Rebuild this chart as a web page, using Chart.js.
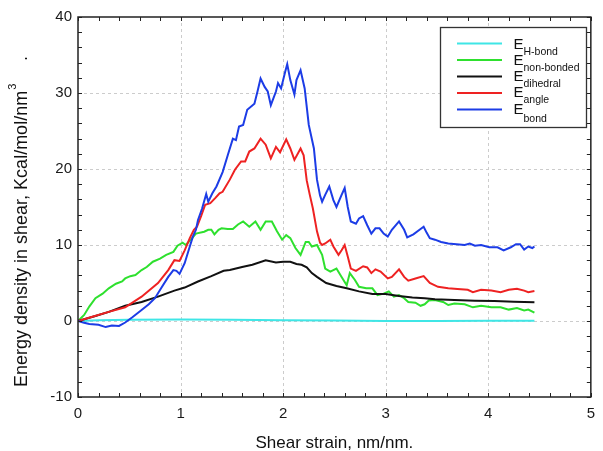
<!DOCTYPE html>
<html><head><meta charset="utf-8">
<style>html,body{margin:0;padding:0;background:#fff;}canvas{display:block;}</style>
<script src="https://cdn.jsdelivr.net/npm/chart.js@4.4.1/dist/chart.umd.min.js"></script>
</head><body>
<canvas id="c" width="603" height="451"></canvas>
<script>
// ---- data ----
const xTicks = [0, 1, 2, 3, 4, 5];
const yTicks = [-10, 0, 10, 20, 30, 40];
const xTitle = 'Shear strain, nm/nm.';
const yTitleMain = 'Energy density in shear, Kcal/mol/nm';
const yTitleSup = '3';
const legendSubs = ['H-bond', 'non-bonded', 'dihedral', 'angle', 'bond'];

const hbondX = [0, 0.2, 0.5, 1.0, 1.5, 2.0, 2.5, 3.0, 3.5, 4.0, 4.45];
const hbondY = [0, 0.1, 0.15, 0.2, 0.15, 0.1, 0.05, 0.0, 0.0, 0.02, 0.03];

const nonbX = [0,0.01,0.06,0.11,0.17,0.24,0.30,0.37,0.43,0.46,0.51,0.56,0.62,0.67,0.73,0.80,0.86,0.93,0.97,1.02,1.05,1.10,1.15,1.23,1.27,1.30,1.33,1.37,1.40,1.46,1.51,1.56,1.61,1.67,1.73,1.78,1.83,1.89,1.94,1.99,2.03,2.07,2.12,2.17,2.22,2.25,2.28,2.33,2.38,2.41,2.46,2.52,2.57,2.62,2.65,2.70,2.74,2.81,2.87,2.92,2.98,3.03,3.08,3.13,3.18,3.22,3.29,3.34,3.38,3.42,3.48,3.56,3.61,3.67,3.77,3.85,3.93,4.03,4.12,4.20,4.28,4.35,4.39,4.45];
const nonbY = [0,0.13,0.8,1.9,3.0,3.6,4.3,4.9,5.2,5.6,5.9,6.05,6.7,7.1,7.8,8.2,8.7,9.1,9.9,10.3,10.0,10.7,11.5,11.75,12.0,12.0,11.4,12.0,12.2,12.1,12.1,12.7,13.1,12.4,13.1,12.0,13.1,13.1,11.8,10.7,11.3,10.9,9.6,8.7,10.4,10.4,9.8,10.0,8.7,6.9,6.5,6.9,5.8,4.7,6.3,5.4,4.5,4.3,4.3,3.4,3.6,3.9,3.2,3.4,3.0,2.5,2.4,2.0,2.2,2.7,2.76,2.5,2.1,2.3,2.2,1.8,2.0,1.8,1.8,1.5,1.7,1.4,1.5,1.1];

const dihedX = [0,0.17,0.30,0.46,0.62,0.78,0.94,1.04,1.17,1.30,1.42,1.48,1.60,1.70,1.83,1.93,2.00,2.07,2.13,2.18,2.23,2.28,2.33,2.42,2.52,2.62,2.74,2.87,3.00,3.13,3.26,3.38,3.48,3.67,3.87,4.06,4.25,4.45];
const dihedY = [0,0.66,1.2,2.0,2.5,3.2,4.0,4.4,5.2,5.9,6.6,6.7,7.1,7.4,8.0,7.7,7.8,7.8,7.5,7.4,7.05,6.3,5.8,5.0,4.6,4.3,3.9,3.55,3.55,3.3,3.1,3.0,2.85,2.76,2.67,2.63,2.54,2.46];

const angleX = [0,0.14,0.30,0.46,0.62,0.78,0.88,0.94,0.99,1.04,1.09,1.13,1.16,1.20,1.24,1.29,1.34,1.38,1.41,1.48,1.53,1.59,1.63,1.67,1.72,1.78,1.83,1.88,1.93,1.97,2.03,2.07,2.11,2.17,2.20,2.23,2.26,2.29,2.33,2.36,2.38,2.41,2.46,2.49,2.54,2.57,2.60,2.63,2.66,2.71,2.78,2.82,2.86,2.90,2.95,3.02,3.06,3.13,3.18,3.22,3.29,3.37,3.43,3.51,3.61,3.70,3.80,3.85,3.93,4.03,4.12,4.20,4.28,4.35,4.39,4.45];
const angleY = [0,0.56,1.2,1.8,3.2,5.0,6.7,8.0,7.9,9.3,10.9,12.0,12.4,13.8,15.3,15.5,16.2,16.8,17.0,18.6,19.9,21.0,21.0,22.3,22.7,24.0,23.2,21.4,22.9,22.2,23.9,22.7,21.2,22.7,21.8,18.5,16.6,14.8,11.8,10.3,10.0,10.2,10.7,9.8,8.7,9.3,10.0,8.5,6.9,6.6,7.2,7.05,6.3,6.8,6.5,5.6,5.8,6.8,5.8,5.3,5.6,5.9,5.0,4.5,4.3,4.2,4.1,3.8,4.1,4.0,3.8,4.1,4.25,4.0,3.8,3.95];

const bondX = [0,0.05,0.11,0.20,0.27,0.33,0.40,0.46,0.53,0.62,0.69,0.75,0.81,0.88,0.93,0.96,0.99,1.04,1.09,1.12,1.15,1.17,1.21,1.25,1.27,1.31,1.35,1.41,1.46,1.51,1.54,1.57,1.61,1.65,1.72,1.75,1.78,1.82,1.85,1.88,1.93,1.95,1.98,2.02,2.04,2.07,2.11,2.13,2.17,2.21,2.25,2.30,2.33,2.36,2.38,2.41,2.45,2.49,2.52,2.57,2.60,2.63,2.66,2.71,2.74,2.78,2.82,2.86,2.90,2.94,2.98,3.02,3.06,3.13,3.18,3.21,3.27,3.34,3.37,3.40,3.43,3.48,3.54,3.61,3.69,3.77,3.82,3.87,3.93,4.01,4.09,4.15,4.22,4.27,4.31,4.35,4.39,4.43,4.45];
const bondY = [0,-0.2,-0.4,-0.5,-0.8,-0.6,-0.65,-0.2,0.5,1.45,2.2,3.0,4.3,5.8,6.7,6.6,6.2,7.6,9.8,11.1,12.0,13.3,14.8,16.7,15.7,16.8,17.7,19.6,21.8,24.0,23.8,25.6,25.8,27.8,28.6,30.2,31.9,30.8,30.2,28.4,30.2,31.3,30.6,32.8,33.8,31.7,29.8,31.7,33.0,30.6,25.8,22.7,18.6,16.5,15.7,16.6,17.7,15.9,15.0,16.6,17.5,15.0,13.1,12.8,13.5,13.8,12.6,11.5,12.2,12.2,11.5,11.1,12.0,13.1,12.0,11.0,11.4,12.1,12.4,11.6,10.9,10.7,10.4,10.2,10.1,10.0,10.2,9.9,10.0,9.7,9.7,9.3,9.7,10.1,10.1,9.4,9.8,9.6,9.8];

// ---- style ----
const FONT = "'Liberation Sans', Arial, Helvetica, sans-serif";
const COLORS = ['#3fe6e6', '#2ee02e', '#111111', '#ee2222', '#1c3ce6'];
Chart.defaults.font.family = FONT;

const pts = (xs, ys) => xs.map((x, i) => ({x: x, y: ys[i]}));

const decor = {
  id: 'decor',
  beforeDatasetsDraw(chart) {
    const {ctx, chartArea: a, scales: {x, y}} = chart;
    ctx.save();
    ctx.strokeStyle = '#cccccc';
    ctx.lineWidth = 1;
    ctx.setLineDash([3, 3]);
    xTicks.slice(1, -1).forEach(v => {
      const px = Math.round(x.getPixelForValue(v)) + 0.5;
      ctx.beginPath(); ctx.moveTo(px, a.top); ctx.lineTo(px, a.bottom); ctx.stroke();
    });
    yTicks.slice(1, -1).forEach(v => {
      const py = Math.round(y.getPixelForValue(v)) + 0.5;
      ctx.beginPath(); ctx.moveTo(a.left, py); ctx.lineTo(a.right, py); ctx.stroke();
    });
    ctx.restore();
  },
  afterDatasetsDraw(chart) {
    const {ctx, chartArea: a, scales: {x, y}} = chart;
    ctx.save();
    // frame
    ctx.strokeStyle = '#222';
    ctx.lineWidth = 1.5;
    ctx.strokeRect(a.left, a.top, a.right - a.left, a.bottom - a.top);
    // inside ticks
    ctx.lineWidth = 1;
    const L = 4;
    for (let i = 0; i <= 25; i++) {
      const px = Math.round(x.getPixelForValue(i * 0.2)) + 0.5;
      ctx.beginPath();
      ctx.moveTo(px, a.bottom); ctx.lineTo(px, a.bottom - L);
      ctx.moveTo(px, a.top); ctx.lineTo(px, a.top + L);
      ctx.stroke();
    }
    for (let v = -10; v <= 40; v += 2) {
      const py = Math.round(y.getPixelForValue(v)) + 0.5;
      ctx.beginPath();
      ctx.moveTo(a.left, py); ctx.lineTo(a.left + L, py);
      ctx.moveTo(a.right, py); ctx.lineTo(a.right - L, py);
      ctx.stroke();
    }
    // legend
    const bx = 440.5, by = 27.5, bw = 146, bh = 100;
    ctx.fillStyle = '#fff';
    ctx.fillRect(bx, by, bw, bh);
    ctx.strokeStyle = '#333';
    ctx.lineWidth = 1.3;
    ctx.strokeRect(bx, by, bw, bh);
    const lineY = [43.5, 60, 76.5, 93, 109.5];
    const eBase = [48.5, 64.5, 80.5, 97, 113.5];
    const sBase = [54.5, 70.5, 86.5, 103, 121.5];
    legendSubs.forEach((s, i) => {
      ctx.strokeStyle = COLORS[i];
      ctx.lineWidth = 2;
      ctx.beginPath(); ctx.moveTo(457, lineY[i]); ctx.lineTo(502, lineY[i]); ctx.stroke();
      ctx.fillStyle = '#111';
      ctx.textAlign = 'left';
      ctx.textBaseline = 'alphabetic';
      ctx.font = '15px ' + FONT;
      ctx.fillText('E', 513.5, eBase[i]);
      ctx.font = '10.5px ' + FONT;
      ctx.fillText(s, 523.5, sBase[i]);
    });
    ctx.restore();
  },
  afterDraw(chart) {
    const {ctx, chartArea: a} = chart;
    ctx.save();
    ctx.fillStyle = '#111';
    // x title
    ctx.font = '17px ' + FONT;
    ctx.textAlign = 'center';
    ctx.textBaseline = 'alphabetic';
    ctx.fillText(xTitle, (a.left + a.right) / 2, 448);
    // y title
    ctx.translate(27, 387);
    ctx.rotate(-Math.PI / 2);
    ctx.textAlign = 'left';
    ctx.font = '18px ' + FONT;
    ctx.fillText(yTitleMain, 0, 0);
    const w = ctx.measureText(yTitleMain).width;
    ctx.font = '11px ' + FONT;
    ctx.fillText(yTitleSup, w + 1, -11);
    ctx.font = '18px ' + FONT;
    ctx.fillText('.', 326, 0);
    ctx.restore();
  }
};

new Chart(document.getElementById('c'), {
  type: 'line',
  data: {
    datasets: [
      {label: 'bond', data: pts(bondX, bondY), borderColor: COLORS[4]},
      {label: 'angle', data: pts(angleX, angleY), borderColor: COLORS[3]},
      {label: 'dihedral', data: pts(dihedX, dihedY), borderColor: COLORS[2]},
      {label: 'non-bonded', data: pts(nonbX, nonbY), borderColor: COLORS[1]},
      {label: 'H-bond', data: pts(hbondX, hbondY), borderColor: COLORS[0]}
    ].map(d => Object.assign(d, {borderWidth: 2, pointRadius: 0, fill: false, tension: 0}))
  },
  options: {
    responsive: false,
    animation: false,
    devicePixelRatio: 1,
    layout: {padding: {top: 17, right: 5, left: 0, bottom: 0}},
    plugins: {legend: {display: false}, tooltip: {enabled: false}},
    scales: {
      x: {
        type: 'linear', min: 0, max: 5,
        afterBuildTicks: s => { s.ticks = xTicks.map(v => ({value: v})); },
        afterFit: s => { s.height = 54; },
        grid: {display: false, drawTicks: false},
        border: {display: false},
        ticks: {font: {size: 15}, color: '#1a1a1a', padding: 8, maxRotation: 0, autoSkip: false}
      },
      y: {
        type: 'linear', min: -10, max: 40,
        afterBuildTicks: s => { s.ticks = yTicks.map(v => ({value: v})); },
        afterFit: s => { s.width = 78; },
        grid: {display: false, drawTicks: false},
        border: {display: false},
        ticks: {font: {size: 15}, color: '#1a1a1a', padding: 6, autoSkip: false}
      }
    }
  },
  plugins: [decor]
});
</script>
</body></html>
